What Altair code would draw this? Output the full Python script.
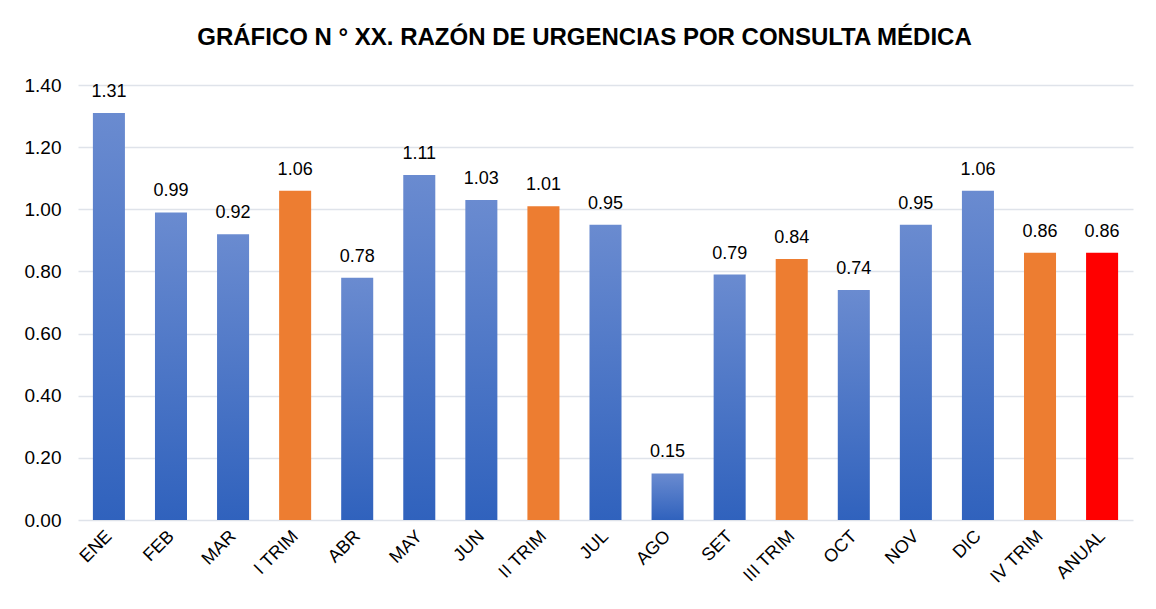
import altair as alt
import pandas as pd

categorias = ["ENE", "FEB", "MAR", "I TRIM", "ABR", "MAY", "JUN", "II TRIM", "JUL", "AGO",
              "SET", "III TRIM", "OCT", "NOV", "DIC", "IV TRIM", "ANUAL"]
valores = [1.31, 0.99, 0.92, 1.06, 0.78, 1.11, 1.03, 1.01, 0.95, 0.15,
           0.79, 0.84, 0.74, 0.95, 1.06, 0.86, 0.86]
tipos = ["mes", "mes", "mes", "trim", "mes", "mes", "mes", "trim", "mes", "mes",
         "mes", "trim", "mes", "mes", "mes", "trim", "anual"]

df = pd.DataFrame({"cat": categorias, "val": valores, "tipo": tipos})

x = alt.X("cat:N", sort=categorias, title=None,
          scale=alt.Scale(paddingInner=0.484, paddingOuter=0.24),
          axis=alt.Axis(labelAngle=-45, labelFontSize=18, labelFont="Liberation Sans",
                        labelColor="#000000", domain=False, ticks=False, labelPadding=7,
                        labelOffset=-6))
y = alt.Y("val:Q", title=None,
          scale=alt.Scale(domain=[0, 1.4], nice=False),
          axis=alt.Axis(values=[0, 0.2, 0.4, 0.6, 0.8, 1.0, 1.2, 1.4], format=".2f",
                        labelFontSize=19, labelFont="Liberation Sans", labelColor="#000000",
                        domain=False, ticks=False, labelPadding=17,
                        gridColor="#dfe3ea", gridWidth=1.5))

base = alt.Chart(df)

azul = base.transform_filter(alt.datum.tipo == "mes").mark_bar(
    color=alt.Gradient(gradient="linear",
                       stops=[alt.GradientStop(color="#6a8bd0", offset=0),
                              alt.GradientStop(color="#3062bd", offset=1)],
                       x1=0, x2=0, y1=0, y2=1)
).encode(x=x, y=y)

otros = base.transform_filter(alt.datum.tipo != "mes").mark_bar().encode(
    x=x, y=y,
    color=alt.Color("tipo:N", scale=alt.Scale(domain=["trim", "anual"],
                                              range=["#ed7d31", "#ff0000"]), legend=None))

etiquetas = base.mark_text(baseline="bottom", dy=-12, fontSize=18,
                           font="Liberation Sans", color="#000000").encode(
    x=x, y=y, text=alt.Text("val:Q", format=".2f"))

chart = alt.layer(azul, otros, etiquetas).properties(
    width=1055, height=435,
    padding={"left": 16, "top": 18, "right": 5, "bottom": 5},
    title=alt.TitleParams("GRÁFICO N ° XX. RAZÓN DE URGENCIAS POR CONSULTA MÉDICA",
                          font="Liberation Sans", fontSize=24, fontWeight="bold",
                          color="#000000", offset=26, dx=-21)
).configure(background="white").configure_view(stroke=None)

chart.save("out.html", embed_options={"renderer": "svg", "actions": False})
